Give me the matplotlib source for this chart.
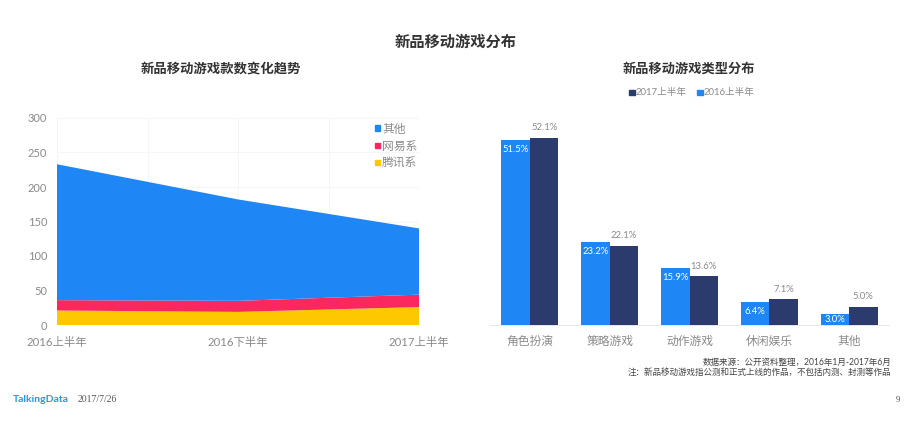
import matplotlib
matplotlib.use('Agg')
import matplotlib.pyplot as plt
from matplotlib.patches import Rectangle

plt.rcParams['font.family'] = ['Lato', 'Noto Sans CJK SC', 'DejaVu Sans']

W, H = 910, 424

# left chart
periods = ['2016上半年', '2016下半年', '2017上半年']
tencent = [21, 19, 26]
netease = [15, 16, 18]
others = [197, 147, 96]
area_labels = ['腾讯系', '网易系', '其他']

# right chart
genres = ['角色扮演', '策略游戏', '动作游戏', '休闲娱乐', '其他']
share_2016 = [51.5, 23.2, 15.9, 6.4, 3.0]
share_2017 = [52.1, 22.1, 13.6, 7.1, 5.0]

BLUE = '#1f86f5'
PINK = '#fb2860'
YELLOW = '#fec800'
NAVY = '#2b3b6e'
GREY = '#8a8a8a'
DARK = '#333333'


def axes_px(fig, x0, x1, y_top, y_bottom):
    # place an axes using pixel coordinates measured from the top left
    return fig.add_axes([x0 / W, 1 - y_bottom / H, (x1 - x0) / W, (y_bottom - y_top) / H])


def fig_text(fig, x, y, s, **kw):
    fig.text(x / W, 1 - y / H, s, va='center', **kw)


fig = plt.figure(figsize=(W / 100, H / 100), dpi=100)

# stacked area
ax1 = axes_px(fig, 57, 419, 118, 325)
x = range(len(periods))
ax1.stackplot(x, tencent, netease, others, colors=[YELLOW, PINK, BLUE], labels=area_labels, zorder=2)
ax1.set_xlim(0, 2)
ax1.set_ylim(0, 300)
ax1.set_yticks(range(0, 301, 50))
ax1.set_xticks([0, 0.5, 1, 1.5, 2])
ax1.set_xticklabels([periods[0], '', periods[1], '', periods[2]])
ax1.grid(color='#f5f5f5', lw=0.7, zorder=0)
ax1.tick_params(axis='y', length=0, labelcolor=GREY, labelsize=8, pad=7)
ax1.tick_params(axis='x', length=0, labelcolor=GREY, labelsize=8.2, pad=8.5)
for s in ax1.spines.values():
    s.set_visible(False)

# legend drawn by hand so that the top row is 其他
legend_rows = [('其他', BLUE, 128), ('网易系', PINK, 145), ('腾讯系', YELLOW, 162)]
for name, col, py in legend_rows:
    fig.patches.append(Rectangle((375 / W, 1 - (py + 2.5) / H), 5 / W, 5 / H,
                                 transform=fig.transFigure, color=col))
    fig_text(fig, 382, py + 1, name, color=GREY, fontsize=8.5, ha='left')

# grouped bars
ax2 = axes_px(fig, 490, 889, 118, 325)
pos = list(range(len(genres)))
bw = 0.357
ax2.bar([p - bw / 2 for p in pos], share_2016, bw, color=BLUE, zorder=2)
ax2.bar([p + bw / 2 for p in pos], share_2017, bw, color=NAVY, zorder=2)
ax2.set_xlim(-0.5, 4.5)
ax2.set_ylim(0, 57.6)
ax2.set_yticks([])
ax2.set_xticks(pos)
ax2.set_xticklabels(genres)
ax2.tick_params(length=0, labelcolor=GREY, labelsize=8.5, pad=8)
for s in ['top', 'left', 'right']:
    ax2.spines[s].set_visible(False)
ax2.spines['bottom'].set_color('#e6e6e6')
ax2.spines['bottom'].set_linewidth(0.7)

for p, a, b in zip(pos, share_2016, share_2017):
    # low bars keep the label centred, tall ones hang it from the top
    ay = a - 2.7 if a > 4 else a / 2
    ax2.text(p - bw / 2, ay, f'{a:.1f}%', color='white', fontsize=6.8, ha='center', va='center', zorder=3)
    ax2.text(p + bw / 2, b + 2.8, f'{b:.1f}%', color=GREY, fontsize=6.8, ha='center', va='center', zorder=3)

# right legend
for name, col, px in [('2017上半年', NAVY, 629), ('2016上半年', BLUE, 697)]:
    fig.patches.append(Rectangle((px / W, 1 - 95 / H), 5.5 / W, 5.5 / H,
                                 transform=fig.transFigure, color=col))
    fig_text(fig, px + 7, 92.5, name, color=GREY, fontsize=6.9, ha='left')

# titles
fig_text(fig, 456, 42.5, '新品移动游戏分布', color=DARK, fontsize=11, fontweight='bold', ha='center')
fig_text(fig, 221, 68.5, '新品移动游戏款数变化趋势', color=DARK, fontsize=9.6, fontweight='bold', ha='center')
fig_text(fig, 689, 68.5, '新品移动游戏类型分布', color=DARK, fontsize=9.5, fontweight='bold', ha='center')

# notes and footer
fig_text(fig, 891, 362, '数据来源：公开资料整理，2016年1月-2017年6月', color='#444444', fontsize=6.15, ha='right')
fig_text(fig, 891, 372, '注：新品移动游戏指公测和正式上线的作品，不包括内测、封测等作品', color='#444444', fontsize=6.15, ha='right')
fig_text(fig, 13, 399, 'TalkingData', color='#1f9af0', fontsize=7.5, fontweight='bold', ha='left')
fig_text(fig, 78, 400, '2017/7/26', color='#555555', fontsize=7, family=['Liberation Serif'], ha='left')
fig_text(fig, 900, 400, '9', color='#555555', fontsize=6.5, family=['Liberation Serif'], ha='right')

fig.savefig('out.png', dpi=100)
